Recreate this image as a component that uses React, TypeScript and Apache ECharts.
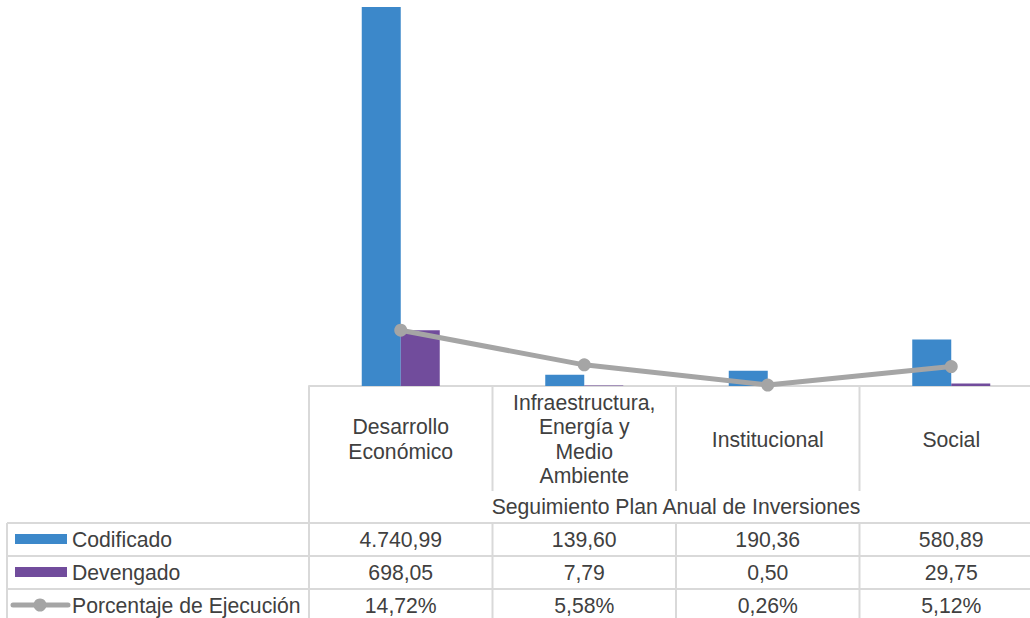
import React, { useEffect, useRef } from "react";
import * as echarts from "echarts";

const categories = [
  "Desarrollo\nEconómico",
  "Infraestructura,\nEnergía y\nMedio\nAmbiente",
  "Institucional",
  "Social",
];
const codificado = [4740.99, 139.6, 190.36, 580.89];
const devengado = [698.05, 7.79, 0.5, 29.75];
const porcentaje = [14.72, 5.58, 0.26, 5.12];
const seriesNames = ["Codificado", "Devengado", "Porcentaje de Ejecución"];
const axisTitle = "Seguimiento Plan Anual de Inversiones";

const BLUE = "#3c88ca";
const PURPLE = "#714c9c";
const GRAY = "#a5a5a5";
const LINE = "#d9d9d9";
const TEXT = "#404040";
const FONT = "'Liberation Sans', Arial, sans-serif";
const FS = 21.2;

function fmtNum(v: number): string {
  const [i, d] = v.toFixed(2).split(".");
  const grouped = i.replace(/\B(?=(\d{3})+(?!\d))/g, ".");
  return grouped + "," + d;
}
function fmtPct(v: number): string {
  return v.toFixed(2).replace(".", ",") + "%";
}

export default function App() {
  const ref = useRef<HTMLDivElement>(null);
  useEffect(() => {
    if (!ref.current) return;
    const chart = echarts.init(ref.current, undefined, { renderer: "svg" });
    const GL = 309;
    const CW = 183.5;
    const GW = CW * categories.length;
    const BASE = 386;
    const TOP = 7;
    const rowY = [523, 556, 589, 622];
    const g: any[] = [];
    const hline = (x1: number, x2: number, y: number) =>
      g.push({ type: "line", shape: { x1, y1: y, x2, y2: y }, style: { stroke: LINE, lineWidth: 2 }, z: 1 });
    const vline = (x: number, y1: number, y2: number) =>
      g.push({ type: "line", shape: { x1: x, y1, x2: x, y2 }, style: { stroke: LINE, lineWidth: 2 }, z: 1 });
    const text = (t: string, x: number, y: number, align = "center") =>
      g.push({
        type: "text",
        x,
        y,
        style: {
          text: t,
          fill: TEXT,
          fontSize: FS,
          fontFamily: FONT,
          align,
          verticalAlign: "middle",
          lineHeight: 24.6,
        },
        z: 2,
      });

    // table grid
    rowY.slice(0, 3).forEach((y) => hline(7, GL + GW, y));
    vline(7, rowY[0], 640);
    vline(GL, BASE, 640);
    for (let i = 1; i < categories.length; i++) {
      const x = GL + CW * i;
      vline(x, BASE, 491);
      vline(x, rowY[0], 640);
    }
    // header labels
    categories.forEach((c, i) => text(c, GL + CW * (i + 0.5), 439));
    text(axisTitle, GL + GW / 2, 506);
    // rows
    const rows = [codificado.map(fmtNum), devengado.map(fmtNum), porcentaje.map(fmtPct)];
    rows.forEach((r, ri) => {
      const cy = (rowY[ri] + rowY[ri + 1]) / 2;
      text(seriesNames[ri], 72, cy, "left");
      r.forEach((v, ci) => text(v, GL + CW * (ci + 0.5), cy));
    });
    // legend keys
    g.push({ type: "rect", shape: { x: 15, y: 534, width: 52, height: 10 }, style: { fill: BLUE }, z: 2 });
    g.push({ type: "rect", shape: { x: 15, y: 567, width: 52, height: 10 }, style: { fill: PURPLE }, z: 2 });
    g.push({ type: "line", shape: { x1: 13, y1: 605, x2: 68, y2: 605 }, style: { stroke: GRAY, lineWidth: 5, lineCap: "round" }, z: 2 });
    g.push({ type: "circle", shape: { cx: 40, cy: 605, r: 6.5 }, style: { fill: GRAY }, z: 3 });

    chart.setOption({
      animation: false,
      grid: { left: GL, top: TOP, width: GW, height: BASE - TOP, containLabel: false },
      xAxis: {
        type: "category",
        data: categories,
        axisLine: { show: true, lineStyle: { color: LINE, width: 2 } },
        axisTick: { show: false },
        axisLabel: { show: false },
        splitLine: { show: false },
      },
      yAxis: [
        { type: "value", min: 0, max: Math.max(...codificado), show: false, splitLine: { show: false } },
        { type: "value", min: 0, max: 100, show: false, splitLine: { show: false } },
      ],
      series: [
        {
          name: seriesNames[0],
          type: "bar",
          data: codificado,
          barWidth: 39,
          barGap: "0%",
          itemStyle: { color: BLUE },
        },
        {
          name: seriesNames[1],
          type: "bar",
          data: devengado,
          barWidth: 39,
          barGap: "0%",
          itemStyle: { color: PURPLE },
        },
        {
          name: seriesNames[2],
          type: "line",
          yAxisIndex: 1,
          data: porcentaje,
          symbol: "circle",
          symbolSize: 13,
          lineStyle: { color: GRAY, width: 5 },
          itemStyle: { color: GRAY },
          z: 5,
        },
      ],
      graphic: g,
    });
    return () => chart.dispose();
  }, []);
  return (
    <div style={{ position: "absolute", left: 0, top: 0, width: 1030, height: 618, background: "#fff", overflow: "hidden" }}>
      <div ref={ref} style={{ width: 1044, height: 618 }} />
    </div>
  );
}
